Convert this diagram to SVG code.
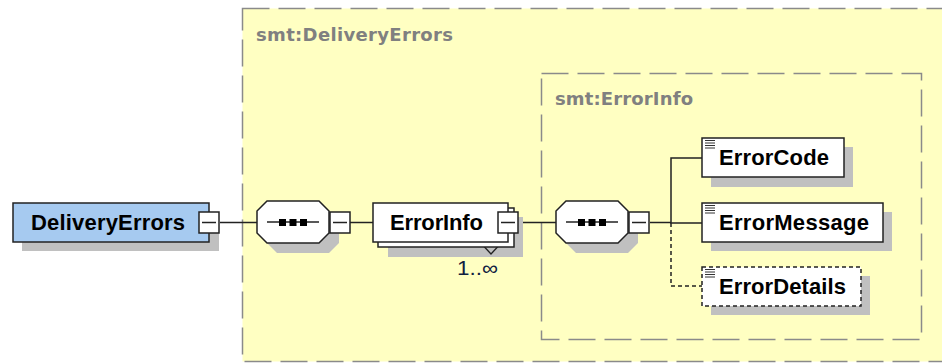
<svg xmlns="http://www.w3.org/2000/svg" width="942" height="363" viewBox="0 0 942 363">
<defs>
<style>
.grp{fill:#FFFFC2;stroke:#8A8A8A;stroke-width:1.5;stroke-dasharray:27 9}
.title{font-family:"DejaVu Sans",Verdana,sans-serif;font-weight:bold;font-size:18px;fill:#808080}
.lbl{font-family:"Liberation Sans",Arial,sans-serif;font-weight:bold;font-size:22px;fill:#000}
.shadow{fill:#C0C0C0}
.box{fill:#FFFFFF;stroke:#222;stroke-width:1.5}
.sel{fill:#A6CAF0;stroke:#222;stroke-width:1.5}
.opt{fill:#FFFFFF;stroke:#222;stroke-width:1.5;stroke-dasharray:4 3}
.wire{fill:none;stroke:#222;stroke-width:1.5}
.dwire{fill:none;stroke:#222;stroke-width:1.5;stroke-dasharray:4 3}
.sq{fill:#000}
.icon{stroke:#333;stroke-width:1}
.card{font-family:"Liberation Sans",Arial,sans-serif;font-size:20px;fill:#102040}
</style>
<g id="collapse">
<rect x="0" y="0" width="20" height="21" class="box"/>
<line x1="3" y1="10.5" x2="17" y2="10.5" stroke="#222" stroke-width="1.5"/>
</g>
<g id="elicon">
<line x1="0" y1="0.5" x2="10" y2="0.5" class="icon"/>
<line x1="0" y1="3" x2="10" y2="3" class="icon"/>
<line x1="0" y1="5.5" x2="10" y2="5.5" class="icon"/>
<line x1="0" y1="8" x2="10" y2="8" class="icon"/>
</g>
<g id="seq">
<polygon points="10,0 62,0 72,10 72,32 62,42 10,42 0,32 0,10" class="box"/>
<line x1="10" y1="21" x2="62" y2="21" stroke="#222" stroke-width="1.5"/>
<rect x="22" y="18" width="7" height="7" class="sq"/>
<rect x="32.5" y="18" width="7" height="7" class="sq"/>
<rect x="43" y="18" width="7" height="7" class="sq"/>
</g>
</defs>
<rect x="0" y="0" width="942" height="363" fill="#FFFFFF"/>
<g id="group-DeliveryErrors">
<rect x="242.5" y="8.5" width="720" height="353" class="grp"/>
<text x="256" y="41" class="title" textLength="197">smt:DeliveryErrors</text>
</g>
<g id="group-ErrorInfo">
<rect x="541.5" y="73.5" width="380" height="266" class="grp"/>
<text x="555" y="105" class="title" textLength="138">smt:ErrorInfo</text>
</g>
<g id="connectors">
<line x1="220" y1="222.5" x2="257" y2="222.5" class="wire"/>
<line x1="350" y1="222.5" x2="373" y2="222.5" class="wire"/>
<line x1="518" y1="222.5" x2="556" y2="222.5" class="wire"/>
<line x1="650" y1="222.5" x2="671" y2="222.5" class="wire"/>
<polyline points="702,158 671,158 671,223 702,223" class="wire"/>
<polyline points="671,223 671,286 702,286" class="dwire"/>
</g>
<g id="node-DeliveryErrors">
<rect x="22" y="212" width="197" height="39" class="shadow"/>
<rect x="13" y="203" width="196" height="39" class="sel"/>
<text x="31" y="229.5" class="lbl" textLength="154">DeliveryErrors</text>
<use href="#collapse" x="199" y="212"/>
</g>
<g id="node-seq1">
<polygon points="277,211 329,211 339,221 339,243 329,253 277,253 267,243 267,221" class="shadow"/>
<use href="#seq" x="257" y="201"/>
<use href="#collapse" x="330" y="212"/>
</g>
<g id="node-ErrorInfo">
<rect x="388" y="217" width="135" height="40" class="shadow"/>
<polyline points="478,240 491,254 504,240" fill="none" stroke="#222" stroke-width="1.3"/>
<rect x="378" y="208" width="136" height="39" class="box"/>
<rect x="373" y="203" width="135" height="39" class="box"/>
<text x="390" y="229.5" class="lbl" textLength="93">ErrorInfo</text>
<use href="#collapse" x="498" y="212"/>
<text x="457" y="275" class="card" textLength="41" lengthAdjust="spacingAndGlyphs">1..∞</text>
</g>
<g id="node-seq2">
<polygon points="576,211 628,211 638,221 638,243 628,253 576,253 566,243 566,221" class="shadow"/>
<use href="#seq" x="556" y="201"/>
<use href="#collapse" x="629" y="212"/>
</g>
<g id="node-ErrorCode">
<rect x="711" y="147" width="142" height="40" class="shadow"/>
<rect x="702" y="138" width="142" height="39" class="box"/>
<use href="#elicon" x="705" y="140"/>
<text x="719" y="165" class="lbl" textLength="110">ErrorCode</text>
</g>
<g id="node-ErrorMessage">
<rect x="711" y="212" width="181" height="39" class="shadow"/>
<rect x="702" y="203" width="181" height="39" class="box"/>
<use href="#elicon" x="705" y="205"/>
<text x="719" y="230" class="lbl" textLength="150">ErrorMessage</text>
</g>
<g id="node-ErrorDetails">
<rect x="711" y="276" width="159" height="39" class="shadow"/>
<rect x="702" y="267" width="159" height="39" class="opt"/>
<use href="#elicon" x="705" y="269"/>
<text x="719" y="294" class="lbl" textLength="127">ErrorDetails</text>
</g>
</svg>
